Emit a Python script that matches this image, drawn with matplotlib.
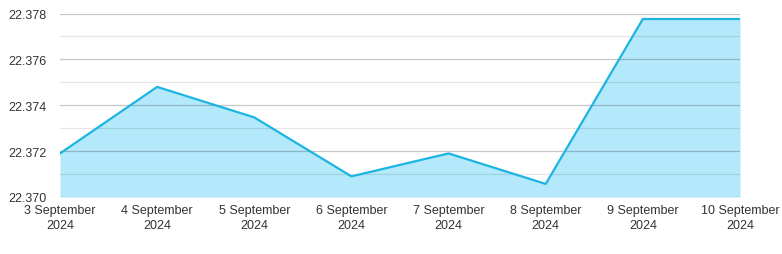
import matplotlib.pyplot as plt
import numpy as np

plt.rcParams['font.family'] = ['Liberation Sans', 'DejaVu Sans']

dates = ['3 September\n2024', '4 September\n2024', '5 September\n2024', '6 September\n2024',
         '7 September\n2024', '8 September\n2024', '9 September\n2024', '10 September\n2024']
values = [22.3719, 22.3748, 22.37347, 22.3709, 22.3719, 22.37057, 22.37776, 22.37776]
y_ticks = [22.370, 22.372, 22.374, 22.376, 22.378]

line_color = '#1db4e2'
fill_color = '#b3e9fb'

fig = plt.figure(figsize=(7.82, 2.55), dpi=100, facecolor='white')
ax = fig.add_axes([60/782, 1 - 198/255, 680/782, 183.5/255])

x = np.arange(len(values))
ax.fill_between(x, 22.370, values, color=fill_color, lw=0, zorder=1)
ax.plot(x, values, color=line_color, lw=1.6, zorder=3)

ax.set_xlim(0, len(values) - 1)
ax.set_ylim(22.370, 22.378)
ax.set_yticks(y_ticks)
ax.set_yticklabels(['%.3f' % v for v in y_ticks])
ax.set_yticks(np.arange(22.371, 22.378, 0.002), minor=True)
ax.set_xticks(x)
ax.set_xticklabels(dates)

# semi-transparent grid so it darkens the fill like the original
ax.grid(True, axis='y', which='major', color='black', alpha=0.22, lw=0.9, zorder=2)
ax.grid(True, axis='y', which='minor', color='black', alpha=0.10, lw=0.9, zorder=2)
ax.set_axisbelow(False)
for s in ax.spines.values():
    s.set_visible(False)
ax.tick_params(axis='both', which='both', length=0, labelsize=9, colors='#333333')
ax.tick_params(axis='y', pad=10)
ax.tick_params(axis='x', pad=5)
for lbl in ax.get_xticklabels():
    lbl.set_linespacing(1.35)

plt.savefig('out.png', dpi=100)
